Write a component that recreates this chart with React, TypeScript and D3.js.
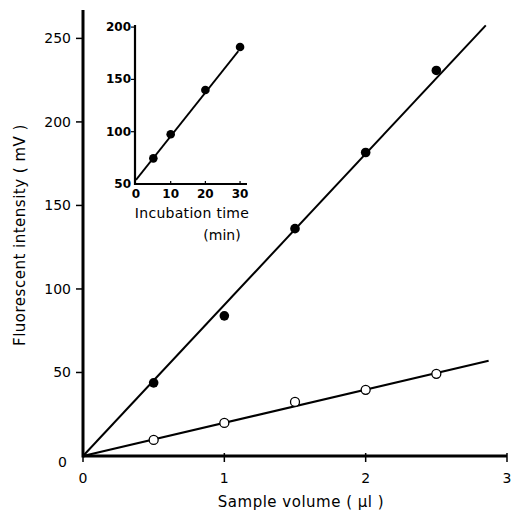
import React, {useRef, useEffect} from "react"
import * as d3 from "d3"

// main panel: sample volume (ul) vs fluorescent intensity (mV)
const volumes = [0.5, 1, 1.5, 2, 2.5]
const filledValues = [43.8, 83.9, 136.1, 181.7, 230.8]
const openValues = [9.6, 19.8, 32.4, 39.6, 49.2]
const filledFit = [[0, 0], [2.85, 257.8]]
const openFit = [[0, 0], [2.87, 57]]
const xTicks = [0, 1, 2, 3]
const yTicks = [0, 50, 100, 150, 200, 250]

// inset: incubation time (min)
const insetTimes = [5, 10, 20, 30]
const insetValues = [74.5, 97.5, 139.8, 181]
const insetFit = [[0, 54], [29.5, 177]]
const insetXTicks = [0, 10, 20, 30]
const insetYTicks = [50, 100, 150, 200]

const font = "'DejaVu Sans', sans-serif"

const App = () => {
    let element = useRef<SVGSVGElement>(null)

    useEffect(() => {
        let svg = d3.select(element.current)
        svg.selectAll("*").remove()

        let x = d3.scaleLinear().domain([0, 3]).range([83, 507])
        let y = d3.scaleLinear().domain([0, 267]).range([456, 10])

        let line = d3.line<number[]>().x(d => x(d[0])).y(d => y(d[1]))

        // axes
        svg.append("line")
            .attr("x1", x(0)).attr("x2", x(3))
            .attr("y1", y(0)).attr("y2", y(0))
            .attr("stroke", "#000").attr("stroke-width", 3)
        svg.append("line")
            .attr("x1", x(0)).attr("x2", x(0))
            .attr("y1", y(0) + 1.5).attr("y2", y(267))
            .attr("stroke", "#000").attr("stroke-width", 3)

        svg.selectAll(".xtick")
            .data(xTicks)
            .enter()
            .append("line")
              .attr("x1", d => x(d)).attr("x2", d => x(d))
              .attr("y1", y(0) - 3).attr("y2", y(0) + 6)
              .attr("stroke", "#000").attr("stroke-width", 1.5)
        svg.selectAll(".xlab")
            .data(xTicks)
            .enter()
            .append("text")
              .attr("x", d => x(d))
              .attr("y", 483)
              .attr("text-anchor", "middle")
              .attr("font-family", font).attr("font-size", 14)
              .text(d => d)

        svg.selectAll(".ytick")
            .data(yTicks.filter(d => d > 0))
            .enter()
            .append("line")
              .attr("x1", x(0) - 7).attr("x2", x(0))
              .attr("y1", d => y(d)).attr("y2", d => y(d))
              .attr("stroke", "#000").attr("stroke-width", 1.5)
        svg.selectAll(".ylab")
            .data(yTicks)
            .enter()
            .append("text")
              .attr("x", d => d === 0 ? 67 : 71)
              .attr("y", d => d === 0 ? y(d) + 11 : y(d) + 5)
              .attr("text-anchor", "end")
              .attr("font-family", font).attr("font-size", 14)
              .text(d => d)

        svg.append("text")
            .attr("x", 301).attr("y", 507)
            .attr("text-anchor", "middle")
            .attr("font-family", font).attr("font-size", 15)
            .attr("letter-spacing", 0.5)
            .text("Sample volume ( µl )")

        svg.append("text")
            .attr("transform", "translate(25,235) rotate(-90)")
            .attr("text-anchor", "middle")
            .attr("font-family", font).attr("font-size", 15)
            .attr("letter-spacing", 0.5)
            .text("Fluorescent intensity ( mV )")

        // fit lines
        svg.append("path").datum(filledFit)
            .attr("d", line).attr("fill", "none")
            .attr("stroke", "#000").attr("stroke-width", 2)
        svg.append("path").datum(openFit)
            .attr("d", line).attr("fill", "none")
            .attr("stroke", "#000").attr("stroke-width", 2)

        svg.selectAll(".filled")
            .data(volumes)
            .enter()
            .append("circle")
              .attr("cx", d => x(d))
              .attr("cy", (d, i) => y(filledValues[i]))
              .attr("r", 4.8)
              .attr("fill", "#000")
        svg.selectAll(".open")
            .data(volumes)
            .enter()
            .append("circle")
              .attr("cx", d => x(d))
              .attr("cy", (d, i) => y(openValues[i]))
              .attr("r", 4.5)
              .attr("fill", "#fff")
              .attr("stroke", "#000").attr("stroke-width", 1.3)

        // inset
        let ix = d3.scaleLinear().domain([0, 32]).range([136, 247])
        let iy = d3.scaleLinear().domain([50, 202]).range([184, 25])
        let iline = d3.line<number[]>().x(d => ix(d[0])).y(d => iy(d[1]))

        svg.append("line")
            .attr("x1", ix(0) - 1).attr("x2", ix(32))
            .attr("y1", iy(50)).attr("y2", iy(50))
            .attr("stroke", "#000").attr("stroke-width", 2.2)
        svg.append("line")
            .attr("x1", ix(0) - 1).attr("x2", ix(0) - 1)
            .attr("y1", iy(50) + 1).attr("y2", iy(202))
            .attr("stroke", "#000").attr("stroke-width", 2.2)

        svg.selectAll(".ixtick")
            .data(insetXTicks.filter(d => d > 0))
            .enter()
            .append("line")
              .attr("x1", d => ix(d)).attr("x2", d => ix(d))
              .attr("y1", iy(50) - 3).attr("y2", iy(50))
              .attr("stroke", "#000").attr("stroke-width", 1.2)
        svg.selectAll(".ixlab")
            .data(insetXTicks)
            .enter()
            .append("text")
              .attr("x", d => ix(d))
              .attr("y", 198)
              .attr("text-anchor", "middle")
              .attr("font-family", font).attr("font-size", 12).attr("font-weight", "bold")
              .text(d => d)

        svg.selectAll(".iytick")
            .data(insetYTicks.filter(d => d > 50))
            .enter()
            .append("line")
              .attr("x1", ix(0) - 5).attr("x2", ix(0))
              .attr("y1", d => iy(d)).attr("y2", d => iy(d))
              .attr("stroke", "#000").attr("stroke-width", 1.2)
        svg.selectAll(".iylab")
            .data(insetYTicks)
            .enter()
            .append("text")
              .attr("x", 131)
              .attr("y", d => d === 50 ? iy(d) + 4 : iy(d) + 4)
              .attr("text-anchor", "end")
              .attr("font-family", font).attr("font-size", 12).attr("font-weight", "bold")
              .text(d => d)

        svg.append("text")
            .attr("x", 192).attr("y", 218)
            .attr("text-anchor", "middle")
            .attr("font-family", font).attr("font-size", 14)
            .attr("letter-spacing", 0.3)
            .text("Incubation time")
        svg.append("text")
            .attr("x", 222).attr("y", 240)
            .attr("text-anchor", "middle")
            .attr("font-family", font).attr("font-size", 14)
            .text("(min)")

        svg.append("path").datum(insetFit)
            .attr("d", iline).attr("fill", "none")
            .attr("stroke", "#000").attr("stroke-width", 1.8)

        svg.selectAll(".ipt")
            .data(insetTimes)
            .enter()
            .append("circle")
              .attr("cx", d => ix(d))
              .attr("cy", (d, i) => iy(insetValues[i]))
              .attr("r", 4.3)
              .attr("fill", "#000")
    }, [])

    return (
        <svg ref={element} width={512} height={514}
            style={{position: "absolute", left: 0, top: 0, background: "#fff"}}></svg>
    )
}

export default App
